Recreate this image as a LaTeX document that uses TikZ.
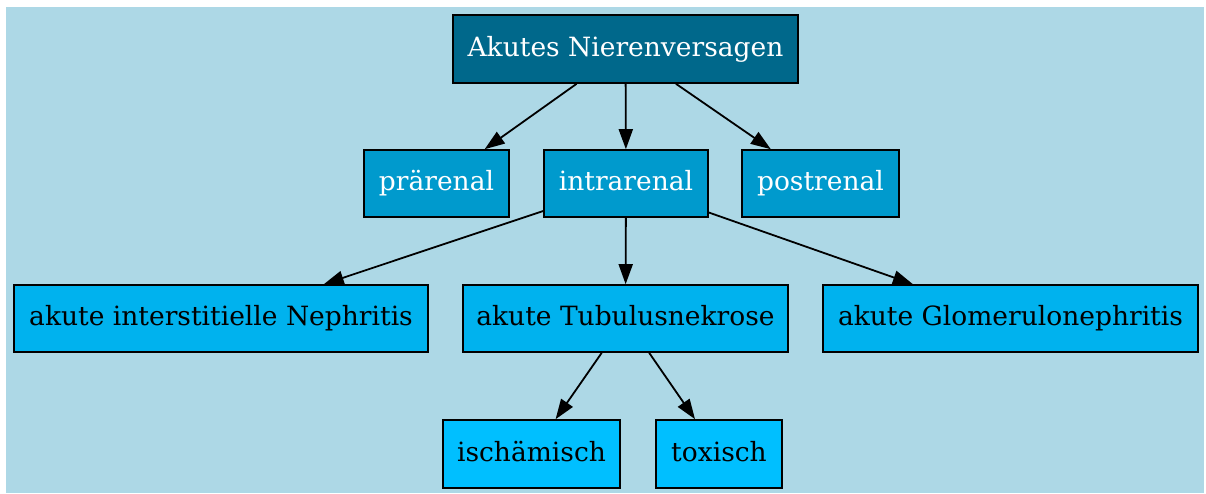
\documentclass[tikz,border=0pt]{standalone}
\usepackage{fontspec}
\setmainfont{DejaVu Serif}
\usetikzlibrary{arrows.meta}
\definecolor{bgblue}{HTML}{ADD8E6}
\definecolor{dsb4}{HTML}{00688B}
\definecolor{dsb3}{HTML}{009ACD}
\definecolor{dsb2}{HTML}{00B2EE}
\definecolor{dsb1}{HTML}{00BFFF}
\tikzset{
  box/.style={draw=black, line width=1.6pt, inner sep=0pt, minimum height=67pt,
    text height=20pt, text depth=6pt,
    font=\fontsize{26.5}{32}\selectfont},
  lvla/.style={box, fill=dsb4, text=white},
  lvlb/.style={box, fill=dsb3, text=white},
  lvlc/.style={box, fill=dsb2, text=black},
  lvld/.style={box, fill=dsb1, text=black},
  conn/.style={draw=black, line width=1.8pt, -{Triangle[length=20pt,width=14pt]}}
}
\begin{document}
\begin{tikzpicture}[x=1pt,y=-1pt]
\useasboundingbox (0,0) rectangle (1206,493);
\fill[bgblue] (6,7) rectangle (1204,493);
\node[lvla, minimum width=345pt, minimum height=68pt] (root) at (625.5,49) {Akutes Nierenversagen};
\node[lvlb, minimum width=145pt] (pre) at (436.5,183.5) {prärenal};
\node[lvlb, minimum width=164pt] (intra) at (626,183.5) {intrarenal};
\node[lvlb, minimum width=157pt] (post) at (820.5,183.5) {postrenal};
\node[lvlc, minimum width=414pt] (ain) at (221,318.5) {akute interstitielle Nephritis};
\node[lvlc, minimum width=325pt] (atn) at (625.5,318.5) {akute Tubulusnekrose};
\node[lvlc, minimum width=375pt] (agn) at (1010.5,318.5) {akute Glomerulonephritis};
\node[lvld, minimum width=177pt, minimum height=68pt] (isch) at (531.5,454) {ischämisch};
\node[lvld, minimum width=126pt, minimum height=68pt] (tox) at (719,454) {toxisch};
\draw[conn] (root) -- (pre);
\draw[conn] (root) -- (intra);
\draw[conn] (root) -- (post);
\draw[conn] (intra) -- (ain);
\draw[conn] (intra) -- (atn);
\draw[conn] (intra) -- (agn);
\draw[conn] (atn) -- (isch);
\draw[conn] (atn) -- (tox);
\end{tikzpicture}
\end{document}
